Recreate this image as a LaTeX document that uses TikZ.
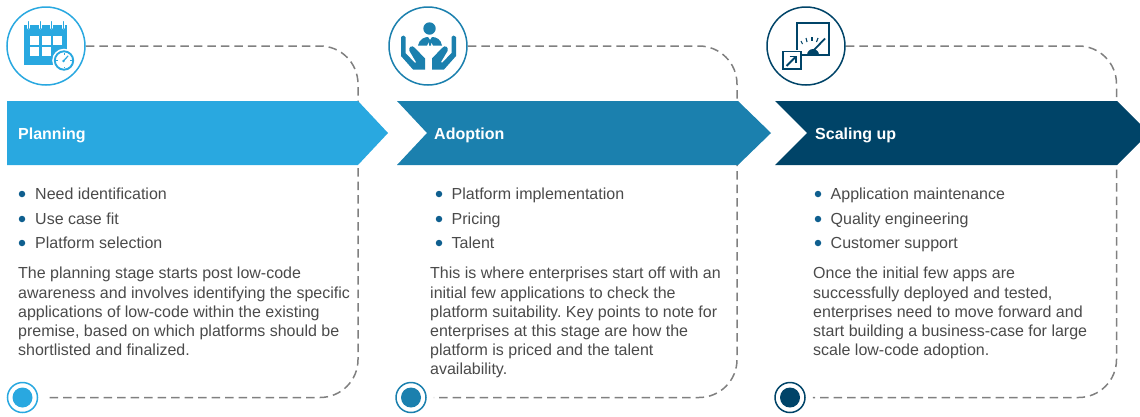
\documentclass[tikz,border=0pt]{standalone}
\usepackage{fontspec}
\setmainfont{Liberation Sans}
\frenchspacing
\definecolor{planblue}{HTML}{29A8E0}
\definecolor{adoptblue}{HTML}{1B80AE}
\definecolor{scaleblue}{HTML}{004468}
\definecolor{dotblue}{HTML}{0F5F8F}
\definecolor{bodygrey}{HTML}{4A4A4A}
\definecolor{dashgrey}{HTML}{808080}
\tikzset{
    iconring/.style={circle,draw,line width=1.5pt,fill=white,minimum size=78pt,inner sep=0pt},
    endring/.style={circle,draw,line width=1.5pt,fill=white,minimum size=30pt,inner sep=0pt},
    enddot/.style={circle,minimum size=20pt,inner sep=0pt},
    dashline/.style={draw=dashgrey,line width=1.5pt,dash pattern=on 8.5pt off 5pt,rounded corners=38pt},
    headtext/.style={anchor=base west,text=white,inner sep=0pt,font=\fontsize{16}{18}\selectfont\bfseries},
    bullettext/.style={anchor=base west,text=bodygrey,inner sep=0pt,font=\fontsize{16}{18}\selectfont},
    bodytext/.style={anchor=north west,text=bodygrey,inner sep=0pt,align=left,font=\fontsize{16}{19.2}\selectfont},
    bulletdot/.style={circle,fill=dotblue,minimum size=6.5pt,inner sep=0pt},
}
\begin{document}
\begin{tikzpicture}[x=1pt,y=-1pt]
    \useasboundingbox (0,0) rectangle (1140,416);
    % rings and dashed frames
    \node[iconring,draw=planblue] (planicon) at (46,46) {};
    \node[endring,draw=planblue] (planend) at (22.5,397.5) {};
    \node[enddot,fill=planblue] at (planend) {};
    \coordinate (planturna) at (358,46);
    \coordinate (planturnb) at (358,397.5);
    \draw[dashline,shorten >=7pt] (planicon) -- (planturna) -- (planturnb) -- (planend);

    \node[iconring,draw=adoptblue] (adopticon) at (428,46) {};
    \node[endring,draw=adoptblue] (adoptend) at (411,397.5) {};
    \node[enddot,fill=adoptblue] at (adoptend) {};
    \coordinate (adoptturna) at (737,46);
    \coordinate (adoptturnb) at (737,397.5);
    \draw[dashline,shorten >=7pt] (adopticon) -- (adoptturna) -- (adoptturnb) -- (adoptend);

    \node[iconring,draw=scaleblue] (scaleicon) at (806,46) {};
    \node[endring,draw=scaleblue] (scaleend) at (790,397.5) {};
    \node[enddot,fill=scaleblue] at (scaleend) {};
    \coordinate (scaleturna) at (1116.5,46);
    \coordinate (scaleturnb) at (1116.5,397.5);
    \draw[dashline,shorten >=7pt] (scaleicon) -- (scaleturna) -- (scaleturnb) -- (scaleend);

    % chevrons
    \fill[planblue] (7,101) -- (358,101) -- (388,133) -- (358,165) -- (7,165) -- cycle;
    \fill[adoptblue] (397,101) -- (738,101) -- (771,133) -- (738,165) -- (397,165) -- (427,133) -- cycle;
    \fill[scaleblue] (775,101) -- (1117,101) -- (1140,124) -- (1140,142) -- (1117,165) -- (775,165) -- (807,133) -- cycle;
    \node[headtext] (planhead) at (18,139.5) {Planning};
    \node[headtext] (adopthead) at (434,139.5) {Adoption};
    \node[headtext] (scalehead) at (815,139) {Scaling up};

    % calendar icon
    \fill[planblue] (24,25) rectangle (67,64.5);
    \foreach \x in {28.5,40,51.5,63} {
        \draw[white,line width=3pt,line cap=round] (\x,21) -- (\x,28);
        \draw[planblue,line width=1pt,line cap=round] (\x,21.5) -- (\x,29);
    }
    \foreach \x in {30,41.5,53}
        \fill[white] (\x,35.5) rectangle ++(9,9);
    \foreach \x in {30,41.5}
        \fill[white] (\x,47) rectangle ++(9,9);
    \fill[white] (64,60.5) circle (11.8);
    \draw[planblue,line width=1.9pt] (64,60.5) circle (9.2);
    \draw[planblue,line width=1.2pt,line cap=round] (63.5,61) -- (68,56);
    \fill[planblue] (63.5,61) circle (1.4);
    \foreach \a in {0,90,180,270}
        \draw[planblue,line width=0.8pt] (64,60.5) ++(\a:7.8) -- ++(\a:-1.8);

    % hands icon
    \fill[adoptblue] (429.5,28.5) circle (6.2);
    \fill[adoptblue] (418,45.5) .. controls (419,39) and (425,37) .. (428,37) -- (430,40) -- (432,37)
        .. controls (436,37) and (441,39) .. (442,45.5) -- (433,45.5) -- (431,42) -- (431,45.5) -- (429,45.5) -- (429,42) -- (427,45.5) -- cycle;
    \fill[adoptblue] (401,37) .. controls (402,35) and (405,35) .. (405.5,37) -- (405.5,53) -- (415,63)
        -- (416,62) -- (409.5,51) .. controls (408,47) and (412,44.5) .. (415,48) -- (425,58.5) -- (425,69.5) -- (413,69.5) -- (401,56) -- cycle;
    \fill[adoptblue] (456,37) .. controls (455,35) and (452,35) .. (451.5,37) -- (451.5,53) -- (442,63)
        -- (441,62) -- (447.5,51) .. controls (449,47) and (445,44.5) .. (442,48) -- (432,58.5) -- (432,69.5) -- (444,69.5) -- (456,56) -- cycle;

    % gauge icon
    \draw[scaleblue,line width=1.8pt] (797,23) rectangle (829,55);
    \fill[white] (782,50) rectangle (802,70);
    \draw[scaleblue,line width=1.8pt] (783,51.5) rectangle (801,69);
    \fill[scaleblue] (807,55) arc[start angle=180,end angle=360,radius=6] -- cycle;
    \draw[scaleblue,line width=1.8pt] (814,50) -- (825,38.5);
    \draw[scaleblue,line width=1.1pt] (801,41) -- (802.5,44);
    \draw[scaleblue,line width=1.1pt] (806,38) -- (807,42);
    \draw[scaleblue,line width=1.1pt] (812,37) -- (812,41);
    \draw[scaleblue,line width=1.1pt] (818,38) -- (816.5,42);
    \draw[scaleblue,line width=1.8pt] (786.5,66) -- (795,57.5);
    \draw[scaleblue,line width=1.6pt] (789.5,56.5) -- (796,56.5) -- (796,63);

    % planning text
    \node[bulletdot] (planbulleta) at (22,194) {};
    \node[bulletdot] (planbulletb) at (22,219) {};
    \node[bulletdot] (planbulletc) at (22,243) {};
    \node[bullettext] (planitema) at (35,199) {Need identification};
    \node[bullettext] (planitemb) at (35,224) {Use case fit};
    \node[bullettext] (planitemc) at (35,248) {Platform selection};
    \node[bodytext] (planbody) at (18,267) {The planning stage starts post low-code\\awareness and involves identifying the specific\\applications of low-code within the existing\\premise, based on which platforms should be\\shortlisted and finalized.};

    % adoption text
    \node[bulletdot] (adoptbulleta) at (439,194) {};
    \node[bulletdot] (adoptbulletb) at (439,219) {};
    \node[bulletdot] (adoptbulletc) at (439,243) {};
    \node[bullettext] (adoptitema) at (451.5,199) {Platform implementation};
    \node[bullettext] (adoptitemb) at (451.5,224) {Pricing};
    \node[bullettext] (adoptitemc) at (451.5,248) {Talent};
    \node[bodytext] (adoptbody) at (430,267) {This is where enterprises start off with an\\initial few applications to check the\\platform suitability. Key points to note for\\enterprises at this stage are how the\\platform is priced and the talent\\availability.};

    % scaling text
    \node[bulletdot] (scalebulleta) at (818,194) {};
    \node[bulletdot] (scalebulletb) at (818,219) {};
    \node[bulletdot] (scalebulletc) at (818,243) {};
    \node[bullettext] (scaleitema) at (830.5,199) {Application maintenance};
    \node[bullettext] (scaleitemb) at (830.5,224) {Quality engineering};
    \node[bullettext] (scaleitemc) at (830.5,248) {Customer support};
    \node[bodytext] (scalebody) at (813,267) {Once the initial few apps are\\successfully deployed and tested,\\enterprises need to move forward and\\start building a business-case for large\\scale low-code adoption.};
\end{tikzpicture}
\end{document}
